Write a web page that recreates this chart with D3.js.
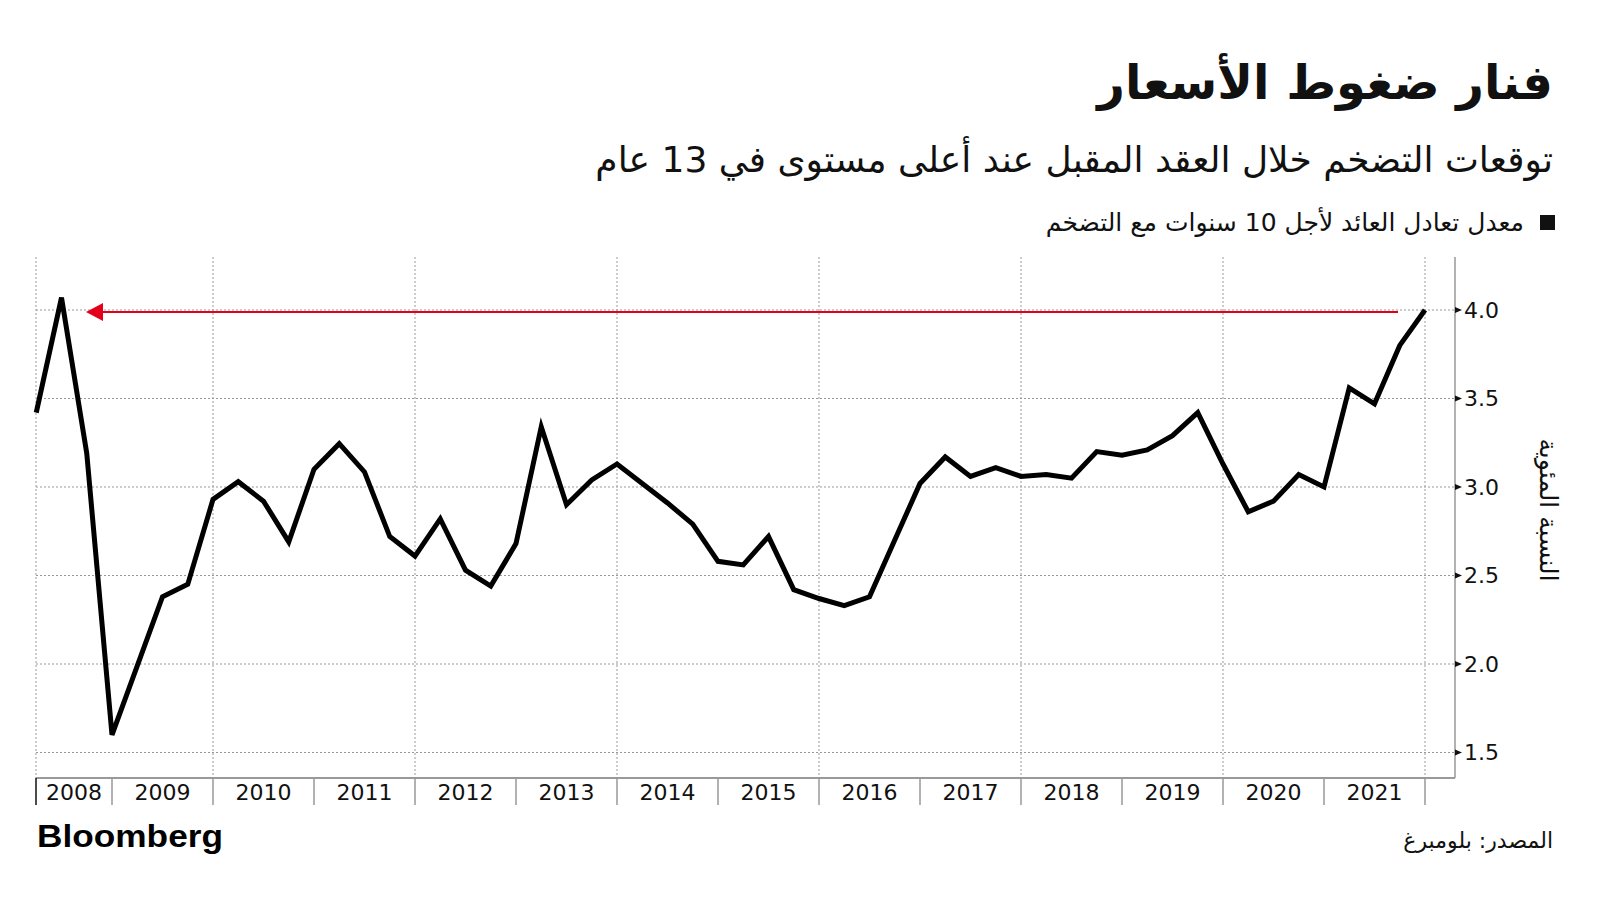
<!DOCTYPE html>
<html>
<head>
<meta charset="utf-8">
<script src="https://cdn.jsdelivr.net/npm/d3@7"></script>
<style>
  body { margin: 0; background: #fff; }
  text { font-family: "DejaVu Sans", sans-serif; fill: #111; }
</style>
</head>
<body>
<div id="chart"></div>
<script>
// ربع سنوي، 2008 - 2021
const quarters = [
  "2008Q1","2008Q2","2008Q3","2008Q4","2009Q1","2009Q2","2009Q3","2009Q4",
  "2010Q1","2010Q2","2010Q3","2010Q4","2011Q1","2011Q2","2011Q3","2011Q4",
  "2012Q1","2012Q2","2012Q3","2012Q4","2013Q1","2013Q2","2013Q3","2013Q4",
  "2014Q1","2014Q2","2014Q3","2014Q4","2015Q1","2015Q2","2015Q3","2015Q4",
  "2016Q1","2016Q2","2016Q3","2016Q4","2017Q1","2017Q2","2017Q3","2017Q4",
  "2018Q1","2018Q2","2018Q3","2018Q4","2019Q1","2019Q2","2019Q3","2019Q4",
  "2020Q1","2020Q2","2020Q3","2020Q4","2021Q1","2021Q2","2021Q3","2021Q4"
]
const breakeven = [
  3.42, 4.07, 3.19, 1.60, 1.99, 2.38, 2.45, 2.93,
  3.03, 2.92, 2.69, 3.10, 3.245, 3.085, 2.72, 2.61,
  2.82, 2.53, 2.44, 2.68, 3.34, 2.90, 3.04, 3.13,
  3.02, 2.91, 2.79, 2.58, 2.56, 2.72, 2.42, 2.37,
  2.33, 2.38, 2.70, 3.02, 3.17, 3.06, 3.11, 3.06,
  3.07, 3.05, 3.20, 3.18, 3.21, 3.29, 3.42, 3.13,
  2.86, 2.92, 3.07, 3.00, 3.56, 3.47, 3.80, 4.00
]
const years = [2008,2009,2010,2011,2012,2013,2014,2015,2016,2017,2018,2019,2020,2021]
const yTicks = [1.5, 2.0, 2.5, 3.0, 3.5, 4.0]
const peakLevel = 4.00

const W = 1600, H = 901
const plotLeft = 36, plotRight = 1455, plotTop = 257, plotBottom = 778

const svg = d3.select("#chart").append("svg")
  .attr("width", W).attr("height", H)

// العناوين
svg.append("text")
  .attr("x", 1553).attr("y", 99)
  .attr("direction", "rtl").attr("text-anchor", "start")
  .style("font-size", "48px").style("font-weight", "bold")
  .text("فنار ضغوط الأسعار")

svg.append("text")
  .attr("x", 1553).attr("y", 172)
  .attr("direction", "rtl").attr("text-anchor", "start")
  .style("font-size", "36px")
  .text("توقعات التضخم خلال العقد المقبل عند أعلى مستوى في 13 عام")

svg.append("rect")
  .attr("x", 1540).attr("y", 215).attr("width", 15).attr("height", 15)
  .attr("fill", "#111")
svg.append("text")
  .attr("x", 1524).attr("y", 231)
  .attr("direction", "rtl").attr("text-anchor", "start")
  .style("font-size", "25px")
  .text("معدل تعادل العائد لأجل 10 سنوات مع التضخم")

// المقاييس
const toYear = q => +q.slice(0, 4) + (+q.slice(5)) / 4
const x = d3.scaleLinear().domain([2008, 2022]).range([11, 1425])
const y = d3.scaleLinear().domain([1.5, 4.0]).range([752.5, 310])

// الشبكة
const grid = svg.append("g")
  .attr("stroke", "#999").attr("stroke-width", 1).attr("stroke-dasharray", "2,2")
grid.selectAll(".h").data(yTicks).join("line")
  .attr("x1", plotLeft).attr("x2", plotRight)
  .attr("y1", d => y(d)).attr("y2", d => y(d))
grid.selectAll(".v").data([2010, 2012, 2014, 2016, 2018, 2020, 2022]).join("line")
  .attr("x1", d => x(d)).attr("x2", d => x(d))
  .attr("y1", plotTop).attr("y2", plotBottom)
grid.append("line")
  .attr("x1", plotLeft).attr("x2", plotLeft).attr("y1", plotTop).attr("y2", plotBottom)

// المحاور
svg.append("line")
  .attr("x1", plotLeft).attr("x2", plotRight).attr("y1", plotBottom).attr("y2", plotBottom)
  .attr("stroke", "#999").attr("stroke-width", 2)
svg.append("line")
  .attr("x1", plotRight).attr("x2", plotRight).attr("y1", plotTop).attr("y2", plotBottom)
  .attr("stroke", "#999").attr("stroke-width", 1.5)

const yAxis = svg.append("g")
yAxis.selectAll("path").data(yTicks).join("path")
  .attr("d", d => `M${plotRight},${y(d) - 3}L${plotRight + 7},${y(d)}L${plotRight},${y(d) + 3}Z`)
  .attr("fill", "#111")
yAxis.selectAll("text").data(yTicks).join("text")
  .attr("x", plotRight + 9).attr("y", d => y(d))
  .attr("dy", "0.36em")
  .style("font-size", "22px")
  .text(d => d.toFixed(1))

svg.append("text")
  .attr("transform", "translate(1540,510) rotate(90)")
  .attr("text-anchor", "middle")
  .style("font-size", "25px")
  .text("النسبة المئوية")

// محور السنوات
svg.selectAll(".ytick").data(years.slice(1).concat([2022])).join("line")
  .attr("x1", d => x(d)).attr("x2", d => x(d))
  .attr("y1", plotBottom).attr("y2", 805)
  .attr("stroke", "#999").attr("stroke-width", 1.5)
svg.append("line")
  .attr("x1", plotLeft).attr("x2", plotLeft).attr("y1", plotBottom).attr("y2", 805)
  .attr("stroke", "#111").attr("stroke-width", 1.5)
svg.selectAll(".ylab").data(years).join("text")
  .attr("x", d => (Math.max(x(d), plotLeft) + x(d + 1)) / 2)
  .attr("y", 800)
  .attr("text-anchor", "middle")
  .style("font-size", "22px")
  .text(d => d)

// السهم الأحمر
svg.append("line")
  .attr("x1", 1398).attr("x2", 101)
  .attr("y1", y(peakLevel) + 2).attr("y2", y(peakLevel) + 2)
  .attr("stroke", "#e3001b").attr("stroke-width", 2)
svg.append("path")
  .attr("d", `M86,${y(peakLevel) + 2}L103,${y(peakLevel) - 7}L103,${y(peakLevel) + 11}Z`)
  .attr("fill", "#e3001b")

// الخط
const line = d3.line()
  .x((d, i) => x(toYear(quarters[i])))
  .y(d => y(d))
svg.append("path")
  .datum(breakeven)
  .attr("d", line)
  .attr("fill", "none")
  .attr("stroke", "#000")
  .attr("stroke-width", 5)
  .attr("stroke-linejoin", "miter")

// التذييل
svg.append("text")
  .attr("x", 37).attr("y", 847)
  .attr("textLength", 186).attr("lengthAdjust", "spacingAndGlyphs")
  .style("font-family", "'Liberation Sans', Arial, sans-serif")
  .style("font-size", "31px").style("font-weight", "bold")
  .style("fill", "#000")
  .text("Bloomberg")

svg.append("text")
  .attr("x", 1553).attr("y", 848)
  .attr("direction", "rtl").attr("text-anchor", "start")
  .style("font-size", "22px")
  .text("المصدر: بلومبرغ")
</script>
</body>
</html>
